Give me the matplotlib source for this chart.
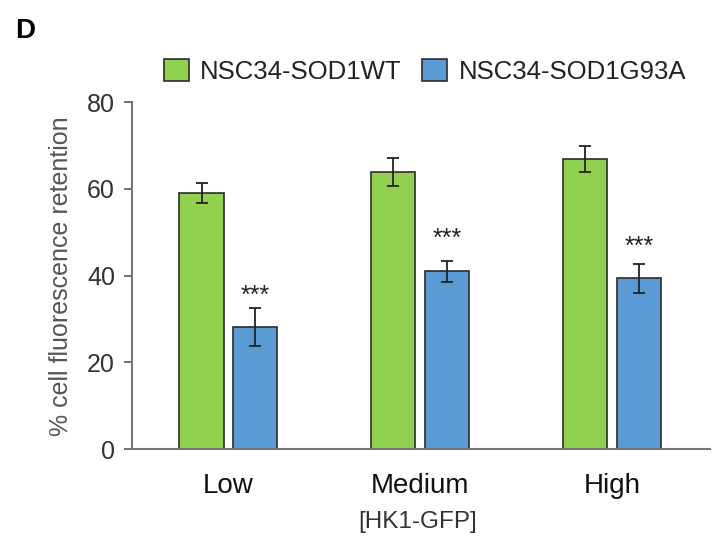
import matplotlib.pyplot as plt
import numpy as np
from matplotlib.patches import Patch

plt.rcParams['font.family'] = ['Liberation Sans', 'DejaVu Sans']

# Data
groups = ["Low", "Medium", "High"]
wt_mean = [59.0, 63.9, 66.9]
wt_err = [2.3, 3.2, 2.9]
g93a_mean = [28.1, 41.0, 39.4]
g93a_err = [4.4, 2.5, 3.3]
sig_labels = ["***", "***", "***"]
sig_y = [35.3, 48.6, 46.7]

green = "#92D050"
blue = "#5B9BD5"

fig = plt.figure(figsize=(7.12, 5.38), dpi=100)
ax = fig.add_axes([0.185, 0.165, 0.812, 0.645])

x = np.arange(len(groups))
w = 0.23
off = 0.14

ax.bar(x - off, wt_mean, w, color=green, edgecolor="#2b2b2b", linewidth=1.2,
       yerr=wt_err, capsize=4, error_kw=dict(ecolor="#222222", elinewidth=1.3, capthick=1.3))
ax.bar(x + off, g93a_mean, w, color=blue, edgecolor="#2b2b2b", linewidth=1.2,
       yerr=g93a_err, capsize=4, error_kw=dict(ecolor="#222222", elinewidth=1.3, capthick=1.3))

# significance stars above the mutant bars
for xi, sy, s in zip(x, sig_y, sig_labels):
    ax.text(xi + off, sy, s, ha="center", va="center", fontsize=18, color="#222222")

ax.set_xlim(-0.504, 2.51)
ax.set_ylim(0, 80)
ax.set_yticks([0, 20, 40, 60, 80])
ax.set_xticks(x)
ax.set_xticklabels(groups, fontsize=20, color="#111111")
ax.tick_params(axis="x", length=0, pad=17)
ax.tick_params(axis="y", length=6, width=1.3, color="#666666", labelsize=18,
               labelcolor="#333333", pad=6)

for side in ["top", "right"]:
    ax.spines[side].set_visible(False)
for side in ["left", "bottom"]:
    ax.spines[side].set_color("#777777")
    ax.spines[side].set_linewidth(1.5)

ax.set_ylabel("% cell fluorescence retention", fontsize=18, color="#555555", labelpad=10)

fig.text(0.587, 0.03, "[HK1-GFP]", ha="center", va="center", fontsize=17.5, color="#333333")
fig.text(0.021, 0.943, "D", ha="left", va="center", fontsize=20, fontweight="bold")

handles = [Patch(facecolor=green, edgecolor="#2b2b2b", linewidth=1.2, label="NSC34-SOD1WT"),
           Patch(facecolor=blue, edgecolor="#2b2b2b", linewidth=1.2, label="NSC34-SOD1G93A")]
fig.legend(handles=handles, loc="center", bbox_to_anchor=(0.597, 0.867), ncol=2,
           frameon=False, fontsize=18.5, handlelength=0.95, handleheight=0.95,
           handletextpad=0.45, columnspacing=0.8, labelcolor="#222222")

fig.savefig("out.png", dpi=100)
